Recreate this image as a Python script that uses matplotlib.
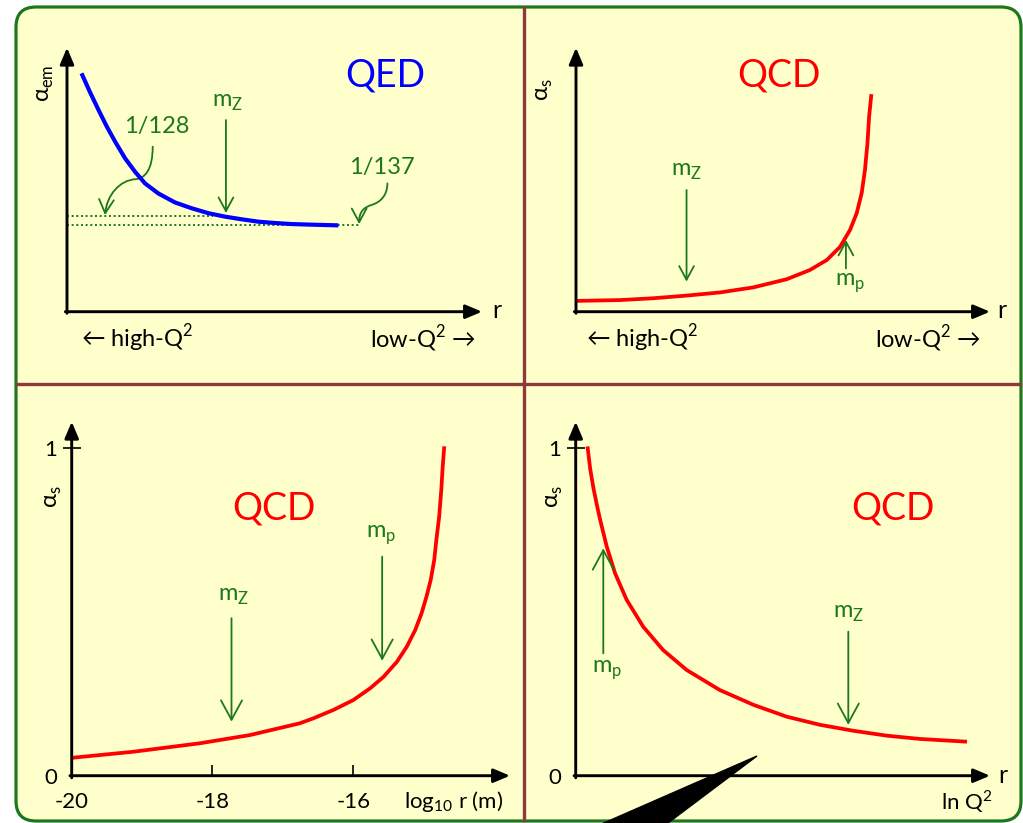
import matplotlib
matplotlib.use('Agg')
import matplotlib.pyplot as plt
from matplotlib.patches import FancyBboxPatch, Polygon, FancyArrowPatch
from matplotlib.path import Path

plt.rcParams['font.family'] = ['Lato', 'DejaVu Sans']

W, H = 1023, 823
BG = '#ffffcc'
GREEN = '#1c781c'
DIVIDER = '#8e3a3a'

# QED: alpha_em vs r (arbitrary units)
qed_r = [0.35, 0.55, 0.76, 0.96, 1.16, 1.40, 1.64, 1.88, 2.20, 2.60, 3.00, 3.41,
         3.81, 4.21, 4.61, 5.01, 5.41, 5.82, 6.54]
qed_alpha = [9.03, 8.33, 7.64, 7.01, 6.44, 5.81, 5.30, 4.86, 4.48, 4.14, 3.92, 3.73,
             3.60, 3.50, 3.41, 3.36, 3.32, 3.30, 3.27]
alpha_mz_level = 3.64   # 1/128
alpha_0_level = 3.27    # 1/137

# QCD: alpha_s vs r (arbitrary units)
qcd_r = [0.02, 1.06, 1.87, 2.67, 3.48, 4.28, 5.09, 5.65, 6.06, 6.38, 6.62,
         6.78, 6.90, 6.98, 7.04, 7.08, 7.13]
qcd_alpha = [0.41, 0.44, 0.51, 0.61, 0.73, 0.92, 1.23, 1.58, 1.96, 2.46, 3.10,
             3.73, 4.49, 5.37, 6.38, 7.39, 8.17]

# QCD: alpha_s vs log10 r (m)
log_r = [-19.98, -19.13, -18.18, -17.47, -16.76, -16.57, -16.28, -16.00, -15.76,
         -15.57, -15.38, -15.24, -15.12, -15.03, -14.96, -14.90, -14.85, -14.82,
         -14.78, -14.75, -14.73, -14.71]
alpha_log_r = [0.055, 0.073, 0.099, 0.124, 0.160, 0.175, 0.201, 0.231, 0.267,
               0.302, 0.348, 0.394, 0.445, 0.496, 0.547, 0.598, 0.659, 0.720,
               0.791, 0.873, 0.944, 1.000]

# QCD: alpha_s vs ln Q^2
ln_q2 = [0.29, 0.35, 0.43, 0.52, 0.59, 0.75, 0.95, 1.23, 1.63, 2.11, 2.68, 3.48,
         4.29, 5.09, 5.90, 6.70, 7.51, 8.31, 9.40]
alpha_ln_q2 = [0.998, 0.935, 0.875, 0.820, 0.780, 0.698, 0.617, 0.536, 0.454,
               0.383, 0.322, 0.261, 0.216, 0.180, 0.155, 0.137, 0.122, 0.112, 0.104]

fig = plt.figure(figsize=(W / 100, H / 100), dpi=100)
fig.patch.set_facecolor('white')

bg = fig.add_axes([0, 0, 1, 1])
bg.set_xlim(0, W)
bg.set_ylim(H, 0)
bg.axis('off')
bg.add_patch(FancyBboxPatch((16, 7), 1005, 814, boxstyle='round,pad=0,rounding_size=20',
                            facecolor=BG, edgecolor=GREEN, lw=2.3))
bg.plot([523.5, 523.5], [8, 820], color=DIVIDER, lw=2.4)
bg.plot([17, 1020], [383.5, 383.5], color=DIVIDER, lw=2.4)


def panel(left, top, right, bottom, xlim, ylim):
    ax = fig.add_axes([left / W, 1 - bottom / H, (right - left) / W, (bottom - top) / H])
    ax.set_xlim(*xlim)
    ax.set_ylim(*ylim)
    ax.patch.set_visible(False)
    for s in ax.spines.values():
        s.set_visible(False)
    ax.set_xticks([])
    ax.set_yticks([])
    head = dict(arrowstyle='-|>,head_length=0.9,head_width=0.38', color='k', lw=2.1,
                shrinkA=0, shrinkB=0, mutation_scale=11)
    ax.annotate('', xy=(1, 0), xytext=(-0.004, 0), xycoords='axes fraction', arrowprops=head)
    ax.annotate('', xy=(0, 1), xytext=(0, -0.006), xycoords='axes fraction', arrowprops=head)
    return ax


def arrow(ax, x, y0, y1, ms):
    ax.annotate('', xy=(x, y1), xytext=(x, y0),
                arrowprops=dict(arrowstyle='->,head_length=0.7,head_width=0.38', color=GREEN,
                                lw=1.3, shrinkA=0, shrinkB=0, mutation_scale=ms))


def curved(ax, verts, ms):
    codes = [Path.MOVETO] + [Path.CURVE4] * (len(verts) - 1)
    p = FancyArrowPatch(path=Path(verts, codes), arrowstyle='->,head_length=0.7,head_width=0.38',
                        color=GREEN, lw=1.3, mutation_scale=ms, clip_on=False)
    ax.add_patch(p)


def txt(ax, x, y, s, size, color='k', **kw):
    ax.text(x, y, s, fontsize=size, color=color, ha='center', va='center', clip_on=False, **kw)


SQ = '$^\\mathregular{2}$'

# ---- top-left: QED
ax1 = panel(67, 47.7, 482, 311.7, (0, 10), (0, 10))
ax1.plot([0, 3.53], [alpha_mz_level] * 2, ls=(0, (1, 1.4)), color=GREEN, lw=1.4)
ax1.plot([0, 7.06], [alpha_0_level] * 2, ls=(0, (1, 1.4)), color=GREEN, lw=1.4)
ax1.plot(qed_r, qed_alpha, color='#0000ff', lw=3.0, solid_capstyle='butt')
txt(ax1, 7.66, 8.93, 'QED', 27, '#0000ff')
txt(ax1, 3.86, 7.94, 'm$_\\mathregular{Z}$', 17, GREEN)
arrow(ax1, 3.83, 7.26, 3.74, 14)
txt(ax1, 2.17, 7.0, '1/128', 17, GREEN)
curved(ax1, [(2.065, 6.25), (2.065, 5.37), (1.88, 5.06), (1.66, 5.02),
             (1.27, 4.99), (0.96, 4.42), (0.916, 3.66)], 14)
txt(ax1, 7.59, 5.48, '1/137', 17, GREEN)
curved(ax1, [(7.72, 4.86), (7.72, 4.4), (7.55, 4.15), (7.35, 4.05),
             (7.15, 3.95), (7.04, 3.8), (7.04, 3.32)], 14)
txt(ax1, -0.53, 8.66, 'α$_\\mathregular{em}$', 17, rotation=90)
txt(ax1, 10.36, 0.05, 'r', 18)
txt(ax1, 1.69, -1.0, '← high-Q' + SQ, 17)
txt(ax1, 8.58, -1.0, 'low-Q' + SQ + ' →', 17)

# ---- top-right: QCD vs r
ax2 = panel(576, 47.7, 990, 311.7, (0, 10), (0, 10))
ax2.plot(qcd_r, qcd_alpha, color='#ff0000', lw=2.7)
txt(ax2, 4.89, 8.93, 'QCD', 27, '#ff0000')
txt(ax2, 2.67, 5.30, 'm$_\\mathregular{Z}$', 17, GREEN)
arrow(ax2, 2.67, 4.61, 1.14, 14)
arrow(ax2, 6.52, 1.64, 2.72, 14)
txt(ax2, 6.62, 1.08, 'm$_\\mathregular{p}$', 17, GREEN)
txt(ax2, -0.75, 8.40, 'α$_\\mathregular{s}$', 17, rotation=90)
txt(ax2, 10.28, 0.05, 'r', 18)
txt(ax2, 1.59, -1.0, '← high-Q' + SQ, 17)
txt(ax2, 8.51, -1.0, 'low-Q' + SQ + ' →', 17)


def unit_ticks(ax):
    ax.set_yticks([0, 1])
    ax.set_yticklabels(['0', '1'])
    ax.tick_params(axis='y', direction='inout', length=13, width=1.2, pad=4, labelsize=16)
    ax.yaxis.get_major_ticks()[0].tick1line.set_visible(False)


# ---- bottom-left: QCD vs log10 r
ax3 = panel(71.7, 421.7, 510, 775.7, (-20, -13.774), (0, 1.081))
ax3.plot(log_r, alpha_log_r, color='#ff0000', lw=2.7)
unit_ticks(ax3)
ax3.set_xticks([-20, -18, -16])
ax3.set_xticklabels(['-20', '-18', '-16'])
ax3.tick_params(axis='x', direction='in', length=8, width=1.2, pad=12, labelsize=16)
ax3.xaxis.get_major_ticks()[0].tick1line.set_visible(False)
txt(ax3, -17.13, 0.817, 'QCD', 27, '#ff0000')
txt(ax3, -17.70, 0.547, 'm$_\\mathregular{Z}$', 17, GREEN)
arrow(ax3, -17.73, 0.481, 0.165, 20)
txt(ax3, -15.60, 0.735, 'm$_\\mathregular{p}$', 17, GREEN)
arrow(ax3, -15.59, 0.669, 0.351, 20)
txt(ax3, -20.26, 0.852, 'α$_\\mathregular{s}$', 17, rotation=90)
txt(ax3, -14.58, -0.079, 'log$_\\mathregular{10}$ r (m)', 16)

# ---- bottom-right: QCD vs ln Q^2
ax4 = panel(575.7, 421.7, 990, 775.7, (0, 10), (0, 1.079))
ax4.plot(ln_q2, alpha_ln_q2, color='#ff0000', lw=2.7)
unit_ticks(ax4)
txt(ax4, 7.65, 0.815, 'QCD', 27, '#ff0000')
arrow(ax4, 0.666, 0.373, 0.693, 20)
txt(ax4, 0.763, 0.322, 'm$_\\mathregular{p}$', 17, GREEN)
txt(ax4, 6.58, 0.495, 'm$_\\mathregular{Z}$', 17, GREEN)
arrow(ax4, 6.58, 0.439, 0.155, 20)
txt(ax4, -0.50, 0.851, 'α$_\\mathregular{s}$', 17, rotation=90)
txt(ax4, 10.32, 0.0, 'r', 18)
txt(ax4, 9.44, -0.079, 'ln Q' + SQ, 16)

# stray black wedge at the bottom edge
wedge = fig.add_axes([0, 0, 1, 1])
wedge.set_xlim(0, W)
wedge.set_ylim(H, 0)
wedge.axis('off')
wedge.add_patch(Polygon([(597, 826), (757, 756), (664, 826)], closed=True, color='k'))

fig.savefig('out.png', dpi=100)
